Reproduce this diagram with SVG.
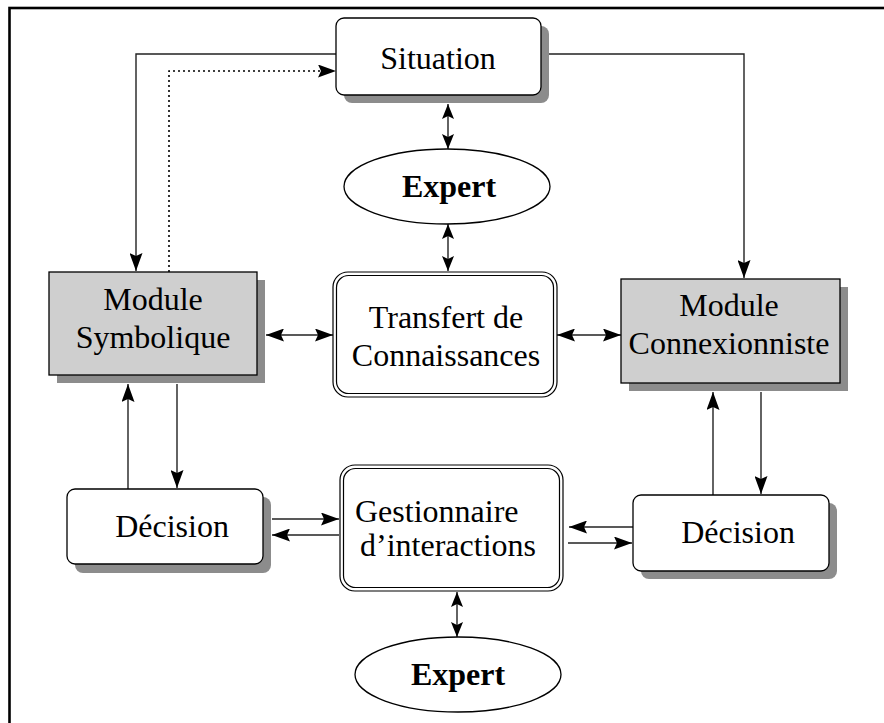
<svg xmlns="http://www.w3.org/2000/svg" width="884" height="723" viewBox="0 0 884 723">
<style>
text{font-family:"Liberation Serif","Times New Roman",serif;font-size:32px;fill:#000}
.b{font-weight:bold}
.box{fill:#fff;stroke:#000;stroke-width:1.3}
.gray{fill:#cfcfcf;stroke:#000;stroke-width:1.3}
.sh{fill:#8c8c8c}
.dbl{fill:none;stroke:#000;stroke-width:1.2}
.ln{fill:none;stroke:#222;stroke-width:1.4}
.a{marker-end:url(#ah)}
.d2{marker-start:url(#ah);marker-end:url(#ah)}
.s2{marker-start:url(#sa);marker-end:url(#sa)}
</style>
<defs>
<marker id="ah" viewBox="0 0 18 13" refX="18" refY="6.5" markerWidth="18" markerHeight="13" markerUnits="userSpaceOnUse" orient="auto-start-reverse"><path d="M0,0 L18,6.5 L0,13 L3,6.5 z" fill="#000"/></marker>
<marker id="sa" viewBox="0 0 15 12" refX="15" refY="6" markerWidth="15" markerHeight="12" markerUnits="userSpaceOnUse" orient="auto-start-reverse"><path d="M0,0 L15,6 L0,12 L3,6 z" fill="#000"/></marker>
</defs>
<rect x="0" y="0" width="884" height="723" fill="#fff"/>
<rect x="9.5" y="8" width="900" height="800" fill="none" stroke="#000" stroke-width="2.6"/>

<g id="connectors">
<path class="ln a" d="M336,54 H136 V271"/>
<path d="M169,272 V71 H322" fill="none" stroke="#000" stroke-width="1.6" stroke-dasharray="2,3"/>
<path d="M320,71 L336,71" fill="none" stroke="none" marker-end="url(#ah)"/>
<path class="ln a" d="M545,54 H744 V278"/>
<path class="ln s2" d="M448,104 V149"/>
<path class="ln s2" d="M448,224 V271"/>
<path class="ln d2" d="M266,335 H333"/>
<path class="ln d2" d="M557,335 H621"/>
<path class="ln a" d="M177,384 V488"/>
<path class="ln a" d="M128,489 V384"/>
<path class="ln a" d="M761,392 V494"/>
<path class="ln a" d="M713,495 V392"/>
<path class="ln a" d="M272,519 H339"/>
<path class="ln a" d="M339,535 H272"/>
<path class="ln a" d="M633,527 H569"/>
<path class="ln a" d="M568,543 H632"/>
<path class="ln s2" d="M457,592 V637"/>
</g>

<g id="situation">
<rect class="sh" x="344" y="26" width="205" height="77" rx="8"/>
<rect class="box" x="336" y="18" width="205" height="77" rx="8"/>
<text x="438" y="69" text-anchor="middle">Situation</text>
</g>

<g id="expert1">
<ellipse class="box" cx="447" cy="186.5" rx="103" ry="37.5"/>
<text class="b" x="449" y="197" text-anchor="middle">Expert</text>
</g>

<g id="transfert">
<rect class="dbl" x="333" y="272" width="224" height="125" rx="15"/>
<rect class="dbl" x="336.5" y="275.5" width="217" height="118" rx="12"/>
<text x="446" y="328" text-anchor="middle">Transfert de</text>
<text x="446" y="366" text-anchor="middle">Connaissances</text>
</g>

<g id="module-symbolique">
<rect class="sh" x="57" y="280" width="208" height="103"/>
<rect class="gray" x="49" y="272" width="208" height="103"/>
<text x="153" y="310" text-anchor="middle">Module</text>
<text x="153" y="348" text-anchor="middle">Symbolique</text>
</g>

<g id="module-connexionniste">
<rect class="sh" x="629" y="287" width="219" height="104"/>
<rect class="gray" x="621" y="279" width="219" height="104"/>
<text x="729" y="316" text-anchor="middle">Module</text>
<text x="729" y="354" text-anchor="middle">Connexionniste</text>
</g>

<g id="decision-gauche">
<rect class="sh" x="75" y="497" width="196" height="76" rx="8"/>
<rect class="box" x="67" y="489" width="196" height="75" rx="8"/>
<text x="172" y="537" text-anchor="middle">Décision</text>
</g>

<g id="gestionnaire">
<rect class="dbl" x="340" y="465" width="223" height="126" rx="15"/>
<rect class="dbl" x="343.5" y="468.5" width="216" height="119" rx="12"/>
<text x="355" y="522">Gestionnaire</text>
<text x="448" y="556" text-anchor="middle">d’interactions</text>
</g>

<g id="decision-droite">
<rect class="sh" x="641" y="503" width="196" height="76" rx="8"/>
<rect class="box" x="633" y="495" width="196" height="76" rx="8"/>
<text x="738" y="543" text-anchor="middle">Décision</text>
</g>

<g id="expert2">
<ellipse class="box" cx="458" cy="674.5" rx="103" ry="37.5"/>
<text class="b" x="458" y="685" text-anchor="middle">Expert</text>
</g>
</svg>
